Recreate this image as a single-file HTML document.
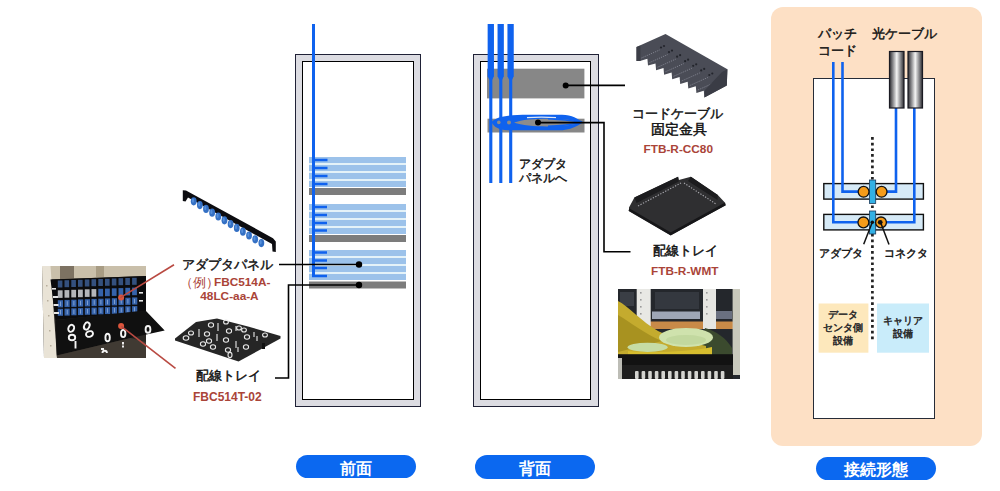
<!DOCTYPE html>
<html><head><meta charset="utf-8">
<style>
html,body{margin:0;padding:0;background:#fff;}
body{width:1000px;height:491px;position:relative;overflow:hidden;font-family:"Liberation Sans",sans-serif;}
.a{position:absolute;}
.rk{position:absolute;box-sizing:border-box;border:1.7px solid #1f2136;background:#dcdce2;}
.rki{position:absolute;box-sizing:border-box;border:1.7px solid #000;background:#fff;}
.t{position:absolute;white-space:nowrap;color:#111;line-height:1;-webkit-text-stroke:0.45px #111;}
.r{color:#aa4438;font-weight:bold;-webkit-text-stroke:0;}
.pill{position:absolute;background:#0b68f0;border-radius:12px;color:#fff;font-weight:bold;text-align:center;}
svg{position:absolute;left:0;top:0;}
</style></head><body>

<!-- peach panel -->
<div class="a" style="left:770.5px;top:6.5px;width:211px;height:439px;background:#fde0c5;border-radius:12px;"></div>
<!-- connection box -->
<div class="a" style="left:813px;top:78px;width:121.5px;height:340.5px;box-sizing:border-box;border:1.9px solid #262c38;background:#fff;"></div>

<!-- racks -->
<div class="rk" style="left:295px;top:54px;width:126px;height:353px;"></div>
<div class="rki" style="left:302px;top:61px;width:111.5px;height:339px;"></div>
<div class="rk" style="left:473px;top:54px;width:125.5px;height:352.5px;"></div>
<div class="rki" style="left:480px;top:61px;width:111px;height:339px;"></div>

<svg width="1000" height="491" viewBox="0 0 1000 491">
  <!-- front rack panels -->
  <g fill="#9cc2ea">
    <rect x="309" y="157" width="97" height="6"/><rect x="309" y="165" width="97" height="6"/><rect x="309" y="173" width="97" height="6"/><rect x="309" y="181" width="97" height="6"/>
    <rect x="309" y="204" width="97" height="6"/><rect x="309" y="212" width="97" height="6"/><rect x="309" y="220" width="97" height="6"/><rect x="309" y="228" width="97" height="6"/>
    <rect x="309" y="250" width="97" height="6"/><rect x="309" y="258" width="97" height="6"/><rect x="309" y="266" width="97" height="6"/><rect x="309" y="274" width="97" height="6"/>
  </g>
  <g fill="#e4f2f8">
    <rect x="309" y="163" width="97" height="2"/><rect x="309" y="171" width="97" height="2"/><rect x="309" y="179" width="97" height="2"/>
    <rect x="309" y="210" width="97" height="2"/><rect x="309" y="218" width="97" height="2"/><rect x="309" y="226" width="97" height="2"/>
    <rect x="309" y="256" width="97" height="2"/><rect x="309" y="264" width="97" height="2"/><rect x="309" y="272" width="97" height="2"/>
  </g>
  <g fill="#7c7c7c">
    <rect x="309" y="188" width="97" height="7"/>
    <rect x="309" y="235" width="97" height="7"/>
    <rect x="309" y="281.5" width="97" height="7"/>
  </g>
  <!-- front blue line + ticks -->
  <g stroke="#0f62ee" fill="none">
    <path d="M313.5 24 V277" stroke-width="3"/>
    <g stroke-width="2.4">
      <path d="M313 160 H327.5 M313 168 H327.5 M313 176 H327.5 M313 184 H327.5"/>
      <path d="M313 207 H327 M313 215 H327 M313 223 H327 M313 230.5 H327"/>
      <path d="M313 252.5 H327 M313 260.5 H327 M313 268 H327 M312 276 H327"/>
    </g>
  </g>
  <!-- front leader lines -->
  <g stroke="#000" stroke-width="1.6" fill="none">
    <path d="M279 264.5 H359"/>
    <path d="M359 285 H288.5 V378 H275"/>
  </g>
  <circle cx="359" cy="264.5" r="3.2" fill="#000"/>
  <circle cx="359" cy="285" r="3.2" fill="#000"/>

  <!-- back rack -->
  <rect x="487" y="68.7" width="97.4" height="29.7" fill="#878787"/>
  <rect x="487.5" y="118.7" width="97" height="13.8" fill="#878787"/>
  <g stroke="#0f62ee" fill="none">
    <path d="M490.8 24 V76.5 M500.7 24 V76.5 M510.6 24 V76.5" stroke-width="6.3"/><path d="M487.6 76 L494 76 L492.4 79.5 L489.2 79.5 Z M497.5 76 L503.9 76 L502.3 79.5 L499.1 79.5 Z M507.4 76 L513.8 76 L512.2 79.5 L509 79.5 Z" fill="#0f62ee" stroke="none"/>
    <path d="M490.8 70 V183 M500.8 70 V183 M510.7 70 V183" stroke-width="3.1"/>
  </g>
  <g>
    <path d="M491.5 122.3 C496 116, 510 114.8, 528 114.8 L562 114.8 C572 115, 578 119, 583 122.2 C578 125.5, 571 130.3, 558 130.3 L508 130.3 C498 130.3, 494 126.5, 491.5 122.3 Z" fill="#0f62ee"/>
    <path d="M514 122.6 C524 118.6, 545 118.3, 560 119 C570 119.6, 576 121, 579 122.6 C576 124.2, 570 125.6, 560 126.1 C545 126.8, 524 126.6, 514 122.6 Z" fill="#8c8c8c"/>
    <path d="M527 117.6 C535 117, 548 117, 556 117.6" stroke="#dfe8f5" stroke-width="1.2" fill="none"/>
    <g stroke="#0f62ee" stroke-width="1.6" fill="none">
      <path d="M548 118.8 C560 119.2, 572 120.5, 582 122.3"/>
      <path d="M548 126.4 C560 126, 572 124.5, 582 122.3"/>
    </g>
    <ellipse cx="498.8" cy="122.4" rx="1.8" ry="1.8" fill="#8c8c8c"/>
    <ellipse cx="509" cy="122.4" rx="2" ry="2" fill="#8c8c8c"/>
  </g>
  <g stroke="#000" stroke-width="1.6" fill="none">
    <path d="M565.7 85.4 H625"/>
    <path d="M538 122.6 H604 V251.8 H630.5"/>
  </g>
  <circle cx="565.7" cy="85.4" r="3" fill="#000"/>
  <circle cx="538" cy="122.6" r="3" fill="#000"/>

  <!-- ===== photo 1 (panel + tray in rack) ===== -->
  <g>
    <polygon points="42,266 146,266 146,358 44,358" fill="#2a2724"/>
    <polygon points="48,266 146,266 146,276 50,279.5" fill="#c9bfaa"/>
    <rect x="60" y="266" width="14" height="13" fill="#7d7262"/>
    <rect x="96" y="266" width="8" height="11" fill="#a89c84"/>
    <polygon points="42,266 50.5,266 57,358 44,358" fill="#e9e3d6"/>
    <g fill="#b8ae9c"><rect x="46" y="285" width="1.5" height="1.5"/><rect x="47" y="300" width="1.5" height="1.5"/><rect x="48" y="315" width="1.5" height="1.5"/><rect x="49" y="330" width="1.5" height="1.5"/><rect x="50" y="345" width="1.5" height="1.5"/></g>
    <polygon points="50.5,279.5 146,276 146,311 55.5,320" fill="#0b0b0d"/>
    <rect x="57.8" y="280.5" width="4.6" height="7" fill="#34507e"/><rect x="64.5" y="280.2" width="4.6" height="7" fill="#34507e"/><rect x="71.3" y="280.0" width="4.6" height="7" fill="#34507e"/><rect x="78.0" y="279.8" width="4.6" height="7" fill="#34507e"/><rect x="84.8" y="279.5" width="4.6" height="7" fill="#34507e"/><rect x="91.5" y="279.2" width="4.6" height="7" fill="#34507e"/><rect x="98.3" y="279.0" width="4.6" height="7" fill="#34507e"/><rect x="105.0" y="278.8" width="4.6" height="7" fill="#34507e"/><rect x="111.8" y="278.5" width="4.6" height="7" fill="#34507e"/><rect x="118.5" y="278.2" width="4.6" height="7" fill="#34507e"/><rect x="125.3" y="278.0" width="4.6" height="7" fill="#34507e"/><rect x="132.1" y="277.8" width="4.6" height="7" fill="#34507e"/><rect x="57.8" y="290.3" width="4.8" height="7.6" fill="#b4b6ba"/><rect x="64.5" y="290.1" width="4.8" height="7.6" fill="#b4b6ba"/><rect x="71.3" y="289.8" width="4.8" height="7.6" fill="#b4b6ba"/><rect x="78.0" y="289.6" width="4.8" height="7.6" fill="#b4b6ba"/><rect x="84.8" y="289.3" width="4.8" height="7.6" fill="#b4b6ba"/><rect x="91.5" y="289.1" width="4.8" height="7.6" fill="#b4b6ba"/><rect x="98.3" y="288.8" width="4.8" height="7.6" fill="#3562aa"/><rect x="105.0" y="288.6" width="4.8" height="7.6" fill="#3562aa"/><rect x="111.8" y="288.3" width="4.8" height="7.6" fill="#3562aa"/><rect x="118.5" y="288.1" width="4.8" height="7.6" fill="#3562aa"/><rect x="125.3" y="287.8" width="4.8" height="7.6" fill="#3562aa"/><rect x="132.1" y="287.6" width="4.8" height="7.6" fill="#3562aa"/><rect x="57.8" y="300.2" width="5.2" height="7.2" fill="#3562aa"/><rect x="64.5" y="299.9" width="5.2" height="7.2" fill="#3562aa"/><rect x="71.3" y="299.7" width="5.2" height="7.2" fill="#3562aa"/><rect x="78.0" y="299.4" width="5.2" height="7.2" fill="#3562aa"/><rect x="84.8" y="299.2" width="5.2" height="7.2" fill="#3562aa"/><rect x="91.5" y="298.9" width="5.2" height="7.2" fill="#3562aa"/><rect x="98.3" y="298.7" width="5.2" height="7.2" fill="#3562aa"/><rect x="105.0" y="298.4" width="5.2" height="7.2" fill="#3562aa"/><rect x="111.8" y="298.2" width="5.2" height="7.2" fill="#3562aa"/><rect x="118.5" y="297.9" width="5.2" height="7.2" fill="#3562aa"/><rect x="125.3" y="297.7" width="5.2" height="7.2" fill="#3562aa"/><rect x="132.1" y="297.4" width="5.2" height="7.2" fill="#3562aa"/><rect x="57.8" y="308.8" width="5.2" height="7" fill="#3562aa"/><rect x="64.5" y="308.6" width="5.2" height="7" fill="#3562aa"/><rect x="71.3" y="308.3" width="5.2" height="7" fill="#3562aa"/><rect x="78.0" y="308.1" width="5.2" height="7" fill="#3562aa"/><rect x="84.8" y="307.8" width="5.2" height="7" fill="#3562aa"/><rect x="91.5" y="307.6" width="5.2" height="7" fill="#3562aa"/><rect x="98.3" y="307.3" width="5.2" height="7" fill="#3562aa"/><rect x="105.0" y="307.1" width="5.2" height="7" fill="#3562aa"/><rect x="111.8" y="306.8" width="5.2" height="7" fill="#3562aa"/><rect x="118.5" y="306.6" width="5.2" height="7" fill="#3562aa"/><rect x="125.3" y="306.3" width="5.2" height="7" fill="#3562aa"/><rect x="132.1" y="306.1" width="5.2" height="7" fill="#3562aa"/>
    <g fill="#a9c2e6" opacity="0.8"><rect x="60.0" y="301.5" width="0.8" height="4.5"/><rect x="60.0" y="310.0" width="0.8" height="4.5"/><rect x="66.8" y="301.2" width="0.8" height="4.5"/><rect x="66.8" y="309.8" width="0.8" height="4.5"/><rect x="73.5" y="301.0" width="0.8" height="4.5"/><rect x="73.5" y="309.5" width="0.8" height="4.5"/><rect x="80.2" y="300.8" width="0.8" height="4.5"/><rect x="80.2" y="309.2" width="0.8" height="4.5"/><rect x="87.0" y="300.5" width="0.8" height="4.5"/><rect x="87.0" y="309.0" width="0.8" height="4.5"/><rect x="93.8" y="300.2" width="0.8" height="4.5"/><rect x="93.8" y="308.8" width="0.8" height="4.5"/><rect x="100.5" y="300.0" width="0.8" height="4.5"/><rect x="100.5" y="308.5" width="0.8" height="4.5"/><rect x="107.2" y="299.8" width="0.8" height="4.5"/><rect x="107.2" y="308.2" width="0.8" height="4.5"/><rect x="114.0" y="299.5" width="0.8" height="4.5"/><rect x="114.0" y="308.0" width="0.8" height="4.5"/><rect x="120.8" y="299.2" width="0.8" height="4.5"/><rect x="120.8" y="307.8" width="0.8" height="4.5"/><rect x="127.5" y="299.0" width="0.8" height="4.5"/><rect x="127.5" y="307.5" width="0.8" height="4.5"/><rect x="134.2" y="298.8" width="0.8" height="4.5"/><rect x="134.2" y="307.2" width="0.8" height="4.5"/></g>
    <g fill="#e6e6e6"><rect x="52" y="288" width="4" height="1.6"/><rect x="53" y="296" width="5" height="2"/><rect x="53.5" y="304" width="5" height="2"/><rect x="54" y="312" width="5" height="2"/><rect x="139" y="292" width="4" height="1.6"/><rect x="139" y="300" width="4" height="1.6"/></g>
    <!-- tray -->
    <polygon points="55.5,320.2 139.8,310.9 146,311 164.7,330.6 130.4,338 56.7,355.5" fill="#101010"/>
    <polygon points="56.7,355.5 130.4,338 146,342 146,358 57,358" fill="#403a33"/>
    <g fill="none" stroke="#f4f4f4" stroke-width="1.9">
      <ellipse cx="71.2" cy="328.3" rx="2.8" ry="3.6" transform="rotate(25 71.2 328.3)"/>
      <ellipse cx="72" cy="337.5" rx="3.2" ry="2.8"/>
      <path d="M75.5 341 V348.5"/>
      <ellipse cx="86.8" cy="326" rx="2.6" ry="3.8" transform="rotate(25 86.8 326)"/>
      <ellipse cx="89.5" cy="334" rx="3.6" ry="2.8" transform="rotate(-20 89.5 334)"/>
      <ellipse cx="107.6" cy="337.5" rx="2.2" ry="3.8"/>
      <ellipse cx="123.2" cy="333.5" rx="2.2" ry="3.6"/>
      <ellipse cx="148" cy="329.4" rx="2.4" ry="3.4"/>
      <path d="M101 349 h3 M102.5 353 a2.2 2.2 0 0 1 4.4 0 M123 342 v2.5 M123 345.5 v2"/>
    </g>
    <circle cx="121.1" cy="297.4" r="3" fill="#dc553c"/>
    <circle cx="121.1" cy="326" r="3" fill="#dc553c"/>
  </g>

  <!-- ===== adapter panel strip ===== -->
  <polygon points="182.8,190.2 186,190.4 273,238.2 275.8,241.5 275.8,252 272.5,251.5 272,244 188,197.6 185.5,201.5 182.8,201" fill="#0c0c10"/>
  <g fill="#3470c4"><ellipse cx="193.70" cy="201.30" rx="2.9" ry="4.1"/><ellipse cx="199.85" cy="205.10" rx="2.9" ry="4.1"/><ellipse cx="206.00" cy="208.90" rx="2.9" ry="4.1"/><ellipse cx="212.15" cy="212.70" rx="2.9" ry="4.1"/><ellipse cx="218.30" cy="216.50" rx="2.9" ry="4.1"/><ellipse cx="224.45" cy="220.30" rx="2.9" ry="4.1"/><ellipse cx="230.60" cy="224.10" rx="2.9" ry="4.1"/><ellipse cx="236.75" cy="227.90" rx="2.9" ry="4.1"/><ellipse cx="242.90" cy="231.70" rx="2.9" ry="4.1"/><ellipse cx="249.05" cy="235.50" rx="2.9" ry="4.1"/><ellipse cx="255.20" cy="239.30" rx="2.9" ry="4.1"/><ellipse cx="261.35" cy="243.10" rx="2.9" ry="4.1"/></g>
  <g fill="#5f98e2" opacity="0.8"><ellipse cx="193.00" cy="200.50" rx="1" ry="2.2"/><ellipse cx="199.15" cy="204.30" rx="1" ry="2.2"/><ellipse cx="205.30" cy="208.10" rx="1" ry="2.2"/><ellipse cx="211.45" cy="211.90" rx="1" ry="2.2"/><ellipse cx="217.60" cy="215.70" rx="1" ry="2.2"/><ellipse cx="223.75" cy="219.50" rx="1" ry="2.2"/><ellipse cx="229.90" cy="223.30" rx="1" ry="2.2"/><ellipse cx="236.05" cy="227.10" rx="1" ry="2.2"/><ellipse cx="242.20" cy="230.90" rx="1" ry="2.2"/><ellipse cx="248.35" cy="234.70" rx="1" ry="2.2"/><ellipse cx="254.50" cy="238.50" rx="1" ry="2.2"/><ellipse cx="260.65" cy="242.30" rx="1" ry="2.2"/></g>

  <!-- ===== tray FBC514T-02 ===== -->
  <g>
    <polygon points="175,338.5 196,322 217,318.4 248,326.4 280.5,336 280.5,338.5 238.5,361.5 175,340.5" fill="#262626"/>
    <g fill="none" stroke="#e8e8e8" stroke-width="1.1">
      <ellipse cx="186" cy="338" rx="2.8" ry="2.2"/><ellipse cx="191" cy="333" rx="2.5" ry="2"/>
      <ellipse cx="211" cy="325" rx="2.6" ry="2.2"/><ellipse cx="207" cy="334" rx="2.6" ry="2.2"/><ellipse cx="209" cy="341" rx="2.6" ry="2.2"/><ellipse cx="203" cy="344" rx="2.6" ry="2.2"/><ellipse cx="213" cy="347" rx="2.6" ry="2.2"/>
      <ellipse cx="226" cy="322" rx="2.4" ry="2"/><ellipse cx="229" cy="331" rx="2.6" ry="2.2"/><ellipse cx="226" cy="340" rx="2.6" ry="2.2"/><ellipse cx="228" cy="350" rx="2.6" ry="2.2"/><ellipse cx="230" cy="355" rx="2" ry="2.6"/>
      <ellipse cx="239" cy="328" rx="2.4" ry="2"/><ellipse cx="244" cy="330" rx="2.4" ry="2"/><ellipse cx="247" cy="337" rx="2.6" ry="2.2"/><ellipse cx="246" cy="347" rx="2.6" ry="2.2"/>
      <ellipse cx="265" cy="335" rx="2.4" ry="2"/>
      <path d="M199 329 v8 M218 323 v8 M217 334 v7 M236 341 v7 M238 347 v5 M236 326 v5 M254 332 v5 M257 336 v5"/>
    </g>
    <rect x="262" y="343" width="3" height="6" fill="#111"/>
  </g>

  <!-- ===== bracket FTB-R-CC80 ===== -->
  <g>
    <polygon points="636.5,47 665.5,34 727.4,69.3 726.8,85.4 704.4,97.6 703.8,90.8 696.4,93.0 695.8,86.2 688.3,88.5 687.7,81.7 680.2,83.9 679.6,77.1 672.2,79.3 671.6,72.5 664.1,74.7 663.5,67.9 656.1,70.2 655.5,63.4 648.0,65.6 647.4,58.8 640.0,61.0 636.5,61" fill="#4a4c56"/>
    <polygon points="636.5,47 640.5,45.5 640.5,61 636.5,61" fill="#3c3e47"/>
    <g stroke="#8a8c98" stroke-width="0.9" stroke-dasharray="1 1.1" fill="none"><path d="M641.5 58.0 l18 -8"/><path d="M649.5 62.6 l18 -8"/><path d="M657.6 67.2 l18 -8"/><path d="M665.6 71.7 l18 -8"/><path d="M673.7 76.3 l18 -8"/><path d="M681.8 80.9 l18 -8"/><path d="M689.8 85.5 l18 -8"/><path d="M697.9 90.0 l18 -8"/></g>
    <g fill="#23252c"><circle cx="661.0" cy="47.5" r="1.1"/><circle cx="664.0" cy="46.0" r="1.1"/><circle cx="669.0" cy="52.1" r="1.1"/><circle cx="672.0" cy="50.6" r="1.1"/><circle cx="677.1" cy="56.7" r="1.1"/><circle cx="680.1" cy="55.2" r="1.1"/><circle cx="685.1" cy="61.2" r="1.1"/><circle cx="688.1" cy="59.7" r="1.1"/><circle cx="693.2" cy="65.8" r="1.1"/><circle cx="696.2" cy="64.3" r="1.1"/><circle cx="701.2" cy="70.4" r="1.1"/><circle cx="704.2" cy="68.9" r="1.1"/><circle cx="709.3" cy="75.0" r="1.1"/><circle cx="712.3" cy="73.5" r="1.1"/><circle cx="717.4" cy="79.5" r="1.1"/><circle cx="720.4" cy="78.0" r="1.1"/></g>
    <polygon points="704.4,97.6 726.8,85.4 727.4,69.3 722,72 705,90" fill="#3a3c45"/>
  </g>

  <!-- ===== tray FTB-R-WMT ===== -->
  <g>
    <polygon points="629,207.6 634.4,197.5 678.1,176.7 678.8,180 690.9,176.7 717.8,194.9 725.3,202.9 725.3,205.2 670.7,235.4 629,211.2" fill="#2f2f31"/>
    <polygon points="634.4,197.5 678.1,176.7 678.8,181.5 636.5,203" fill="#1c1c1e"/>
    <polygon points="690.9,176.7 717.8,194.9 717.5,200 688,181" fill="#1c1c1e"/>
    <g stroke="#a8a8ae" stroke-width="1.1" stroke-dasharray="1.3 1.5" fill="none">
      <path d="M638 206 L681 183"/>
      <path d="M684 183 L716 204"/>
    </g>
    <path d="M629 209.5 L670.7 233.8 L725.3 204" stroke="#161618" stroke-width="2.6" fill="none"/>
  </g>

  <!-- ===== photo 2 ===== -->
  <g>
    <rect x="618" y="289" width="122" height="90" fill="#24272c"/>
    <rect x="655" y="292" width="44" height="17" fill="#34383f"/>
    <rect x="620" y="292" width="14" height="14" fill="#3a3e45"/>
    <rect x="652" y="311.5" width="48" height="7.5" fill="#9ea6b6"/>
    <rect x="715" y="311" width="17" height="8" fill="#6a7080"/>
    <rect x="650" y="321.5" width="83" height="7.5" fill="#c88a48"/>
    <rect x="636.7" y="289" width="14" height="37" fill="#e8e8e4"/>
    <g fill="#9a9a9a"><rect x="640" y="292" width="1.6" height="1.6"/><rect x="640" y="299" width="1.6" height="1.6"/><rect x="640" y="306" width="1.6" height="1.6"/><rect x="640" y="313" width="1.6" height="1.6"/></g>
    <rect x="703" y="289" width="13" height="40" fill="#e6e6e2"/>
    <g fill="#9a9a9a"><rect x="706" y="292" width="1.6" height="1.6"/><rect x="706" y="299" width="1.6" height="1.6"/><rect x="706" y="306" width="1.6" height="1.6"/><rect x="706" y="313" width="1.6" height="1.6"/></g>
    <rect x="732.6" y="289" width="7.4" height="86" fill="#c9c9bc"/>
    <path d="M705 328 C716 331, 726 338, 732 348 L732 356 L700 356 Z" fill="#3b4a2e"/>
    <path d="M618 301 C628 306, 642 322, 658 331 C670 337, 690 342, 706 346 L706 355 L618 355 Z" fill="#c4ab2e"/>
    <path d="M618 315 C630 322, 645 334, 662 341 L618 352 Z" fill="#a89220"/>
    <ellipse cx="686" cy="337.4" rx="27" ry="9.5" fill="#cfe2ad"/>
    <ellipse cx="686" cy="340" rx="20" ry="5" fill="#bcd498" opacity="0.7"/>
    <ellipse cx="647.6" cy="347.3" rx="20" ry="4.6" fill="#c6dca4"/>
    <path d="M628 351 C650 353, 690 352, 712 347 L712 355 L628 355 Z" fill="#d6bd2e"/>
    <rect x="618" y="354.2" width="115" height="11" fill="#121212"/>
    <rect x="618" y="365" width="115" height="14" fill="#1e1e1e"/>
    <g fill="#d4d4d0"><rect x="635.0" y="371" width="3.6" height="8" rx="1"/><rect x="641.6" y="371" width="3.6" height="8" rx="1"/><rect x="648.2" y="371" width="3.6" height="8" rx="1"/><rect x="654.8" y="371" width="3.6" height="8" rx="1"/><rect x="661.4" y="371" width="3.6" height="8" rx="1"/><rect x="668.0" y="371" width="3.6" height="8" rx="1"/><rect x="674.6" y="371" width="3.6" height="8" rx="1"/><rect x="681.2" y="371" width="3.6" height="8" rx="1"/><rect x="687.8" y="371" width="3.6" height="8" rx="1"/><rect x="694.4" y="371" width="3.6" height="8" rx="1"/><rect x="701.0" y="371" width="3.6" height="8" rx="1"/><rect x="707.6" y="371" width="3.6" height="8" rx="1"/><rect x="714.2" y="371" width="3.6" height="8" rx="1"/><rect x="720.8" y="371" width="3.6" height="8" rx="1"/></g>
    <rect x="618" y="358" width="4" height="21" fill="#bdbdb6"/>
  </g>

  <!-- red leader lines -->
  <g stroke="#b94a42" stroke-width="1.6" fill="none">
    <path d="M120.4 297.6 L174 264.7"/>
    <path d="M121.3 326.4 L175.5 368.4"/>
  </g>

  <!-- connection diagram -->
  <!-- dotted line -->
  <path d="M872.4 137 V342" stroke="#222" stroke-width="2.7" stroke-dasharray="2.7 3" fill="none"/>
  <!-- panels -->
  <rect x="823.8" y="183.6" width="99.6" height="15.5" fill="#d6eaf7" stroke="#111" stroke-width="1.4"/>
  <rect x="823.8" y="214.4" width="99.6" height="15.5" fill="#d6eaf7" stroke="#111" stroke-width="1.4"/>
  <!-- blue fibers -->
  <g stroke="#0f62ee" stroke-width="2.6" fill="none">
    <path d="M833.3 62 V222.3 H864"/>
    <path d="M842.5 62 V191.6 H864"/>
    <path d="M896 108 V191.6 H881"/>
    <path d="M914.3 108 V222.3 H881"/>
  </g>
  <!-- cable cylinders -->
  <defs>
    <linearGradient id="cyl" x1="0" x2="1" y1="0" y2="0">
      <stop offset="0" stop-color="#2a2a30"/>
      <stop offset="0.5" stop-color="#f4f4f4"/>
      <stop offset="1" stop-color="#2a2a30"/>
    </linearGradient>
  </defs>
  <rect x="889.5" y="51.5" width="14.5" height="56.5" fill="url(#cyl)" stroke="#1a1a22" stroke-width="1.2"/>
  <rect x="908" y="51.5" width="14.5" height="56.5" fill="url(#cyl)" stroke="#1a1a22" stroke-width="1.2"/>
  <!-- adapters -->
  <rect x="869.5" y="180" width="6.2" height="23.4" fill="#33b0e4" stroke="#1a3a5a" stroke-width="0.8"/>
  <rect x="869.5" y="211" width="6.2" height="23" fill="#33b0e4" stroke="#1a3a5a" stroke-width="0.8"/>
  <g fill="#f59c1a" stroke="#111" stroke-width="1.3">
    <circle cx="863.6" cy="191.8" r="5.4"/>
    <circle cx="881.6" cy="191.8" r="5.4"/>
    <circle cx="863.4" cy="222.4" r="5.4"/>
    <circle cx="881" cy="222.4" r="5.4"/>
  </g>
  <circle cx="880.2" cy="222.3" r="2.4" fill="#111"/>
  <circle cx="872.3" cy="222.3" r="1.8" fill="#111"/>
  <g stroke="#111" stroke-width="1.5" fill="none">
    <path d="M872.3 222.3 L863.7 244.3"/>
    <path d="M880.5 222.3 L889 244.6"/>
  </g>
  <!-- equipment boxes -->
  <rect x="818.6" y="303.5" width="49.8" height="49.2" fill="#fde8bc"/>
  <rect x="877" y="303.5" width="52" height="49.2" fill="#c9ecfa"/>
</svg>

<!-- texts -->
<div class="t" style="left:182px;top:257.7px;font-size:13px;">アダプタパネル</div>
<div class="t r" style="left:180px;top:276.5px;font-size:12.5px;font-weight:normal;">（例）</div>
<div class="t r" style="left:214px;top:276.8px;font-size:11.8px;">FBC514A-</div>
<div class="t r" style="left:200.3px;top:291.3px;font-size:11.8px;">48LC-aa-A</div>
<div class="t" style="left:196px;top:369px;font-size:13px;">配線トレイ</div>
<div class="t r" style="left:193px;top:390.8px;font-size:12px;">FBC514T-02</div>

<div class="t" style="left:519px;top:157.2px;font-size:11.5px;line-height:14.2px;">アダプタ<br>パネルへ</div>

<div class="t" style="left:632px;top:107px;font-size:13px;">コードケーブル</div>
<div class="t" style="left:638px;top:122px;width:81px;text-align:center;font-size:14px;">固定金具</div>
<div class="t r" style="left:643.5px;top:143.5px;font-size:11.8px;">FTB-R-CC80</div>
<div class="t" style="left:653px;top:244px;font-size:13px;">配線トレイ</div>
<div class="t r" style="left:651px;top:265.7px;font-size:11.8px;">FTB-R-WMT</div>

<div class="t" style="left:818px;top:26.3px;font-size:12.8px;line-height:16.3px;">パッチ<br>コード</div>
<div class="t" style="left:872px;top:27px;font-size:13px;">光ケーブル</div>
<div class="t" style="left:819px;top:248px;font-size:11px;">アダプタ</div>
<div class="t" style="left:884px;top:248px;font-size:11px;">コネクタ</div>
<div class="t" style="left:818.6px;top:307.8px;width:49.8px;text-align:center;font-size:10.2px;line-height:13.1px;color:#2a2a2a;-webkit-text-stroke:0.5px #2a2a2a;">データ<br>センタ側<br>設備</div>
<div class="t" style="left:877px;top:314.2px;width:52px;text-align:center;font-size:10.2px;line-height:13.3px;color:#2a2a2a;-webkit-text-stroke:0.5px #2a2a2a;">キャリア<br>設備</div>

<!-- pills -->
<div class="pill" style="left:296px;top:454.5px;width:120px;height:23.5px;font-size:15.5px;line-height:27px;">前面</div>
<div class="pill" style="left:474.5px;top:455px;width:120px;height:23.5px;font-size:15.5px;line-height:27px;">背面</div>
<div class="pill" style="left:816px;top:457px;width:119.5px;height:22.5px;font-size:15.5px;line-height:25.5px;">接続形態</div>

</body></html>
